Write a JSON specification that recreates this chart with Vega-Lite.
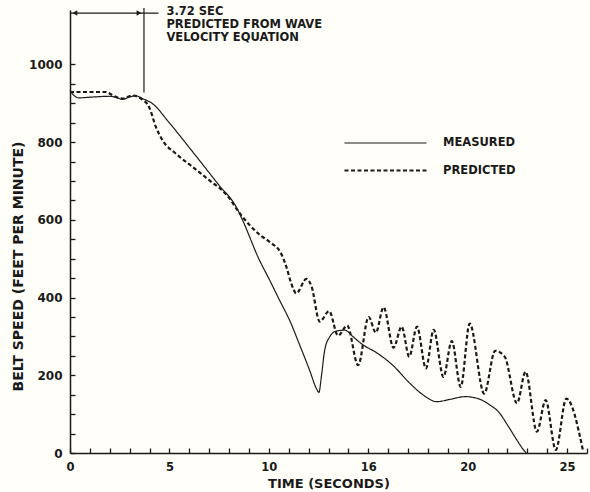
{
  "$schema": "https://vega.github.io/schema/vega-lite/v6.json",
  "width": 517,
  "height": 443,
  "autosize": "none",
  "padding": {"left": 70, "top": 10, "right": 3, "bottom": 39},
  "background": "#fffef8",
  "config": {
    "view": {"stroke": null},
    "font": "DejaVu Sans",
    "axis": {
      "domainColor": "#1a1a1a",
      "domainWidth": 1.5,
      "tickColor": "#1a1a1a",
      "tickWidth": 1.3,
      "tickSize": -5,
      "grid": false,
      "labelFont": "DejaVu Sans",
      "labelFontSize": 12,
      "labelFontWeight": "bold",
      "labelColor": "#1a1a1a",
      "labelOverlap": false,
      "labelFlush": false,
      "titleFont": "DejaVu Sans",
      "titleFontSize": 13,
      "titleFontWeight": "bold",
      "titleColor": "#1a1a1a"
    }
  },
  "resolve": {"axis": {"x": "independent", "y": "independent"}},
  "datasets": {
    "speed": [
      {"t": 0, "v": 933, "series": "MEASURED"},
      {"t": 0.2, "v": 920, "series": "MEASURED"},
      {"t": 0.45, "v": 914, "series": "MEASURED"},
      {"t": 1.13, "v": 916, "series": "MEASURED"},
      {"t": 1.97, "v": 918, "series": "MEASURED"},
      {"t": 2.39, "v": 914, "series": "MEASURED"},
      {"t": 2.64, "v": 910, "series": "MEASURED"},
      {"t": 2.98, "v": 916, "series": "MEASURED"},
      {"t": 3.31, "v": 919, "series": "MEASURED"},
      {"t": 3.65, "v": 912, "series": "MEASURED"},
      {"t": 4.15, "v": 899, "series": "MEASURED"},
      {"t": 4.99, "v": 850, "series": "MEASURED"},
      {"t": 6.17, "v": 775, "series": "MEASURED"},
      {"t": 7.51, "v": 688, "series": "MEASURED"},
      {"t": 8.36, "v": 633, "series": "MEASURED"},
      {"t": 8.61, "v": 607, "series": "MEASURED"},
      {"t": 9.53, "v": 496, "series": "MEASURED"},
      {"t": 10.04, "v": 445, "series": "MEASURED"},
      {"t": 10.54, "v": 393, "series": "MEASURED"},
      {"t": 11.04, "v": 342, "series": "MEASURED"},
      {"t": 11.55, "v": 278, "series": "MEASURED"},
      {"t": 12.05, "v": 213, "series": "MEASURED"},
      {"t": 12.39, "v": 166, "series": "MEASURED"},
      {"t": 12.52, "v": 156, "series": "MEASURED"},
      {"t": 12.64, "v": 196, "series": "MEASURED"},
      {"t": 12.81, "v": 265, "series": "MEASURED"},
      {"t": 13.06, "v": 299, "series": "MEASURED"},
      {"t": 13.4, "v": 314, "series": "MEASURED"},
      {"t": 13.82, "v": 316, "series": "MEASURED"},
      {"t": 14.24, "v": 299, "series": "MEASURED"},
      {"t": 14.74, "v": 278, "series": "MEASURED"},
      {"t": 15.42, "v": 258, "series": "MEASURED"},
      {"t": 16.25, "v": 225, "series": "MEASURED"},
      {"t": 17.1, "v": 179, "series": "MEASURED"},
      {"t": 17.77, "v": 149, "series": "MEASURED"},
      {"t": 18.44, "v": 132, "series": "MEASURED"},
      {"t": 19.11, "v": 138, "series": "MEASURED"},
      {"t": 19.87, "v": 145, "series": "MEASURED"},
      {"t": 20.46, "v": 141, "series": "MEASURED"},
      {"t": 21.13, "v": 123, "series": "MEASURED"},
      {"t": 21.55, "v": 106, "series": "MEASURED"},
      {"t": 22.05, "v": 68, "series": "MEASURED"},
      {"t": 22.48, "v": 33, "series": "MEASURED"},
      {"t": 22.81, "v": 8, "series": "MEASURED"},
      {"t": 22.95, "v": 0, "series": "MEASURED"},
      {"t": 0, "v": 929, "series": "PREDICTED"},
      {"t": 1.8, "v": 929, "series": "PREDICTED"},
      {"t": 2.13, "v": 921, "series": "PREDICTED"},
      {"t": 2.64, "v": 912, "series": "PREDICTED"},
      {"t": 3.14, "v": 920, "series": "PREDICTED"},
      {"t": 3.57, "v": 912, "series": "PREDICTED"},
      {"t": 3.98, "v": 890, "series": "PREDICTED"},
      {"t": 4.32, "v": 839, "series": "PREDICTED"},
      {"t": 4.65, "v": 805, "series": "PREDICTED"},
      {"t": 5.33, "v": 770, "series": "PREDICTED"},
      {"t": 6.17, "v": 736, "series": "PREDICTED"},
      {"t": 7.0, "v": 702, "series": "PREDICTED"},
      {"t": 7.85, "v": 666, "series": "PREDICTED"},
      {"t": 8.61, "v": 612, "series": "PREDICTED"},
      {"t": 9.53, "v": 562, "series": "PREDICTED"},
      {"t": 10.04, "v": 543, "series": "PREDICTED"},
      {"t": 10.62, "v": 513, "series": "PREDICTED"},
      {"t": 10.88, "v": 479, "series": "PREDICTED"},
      {"t": 11.13, "v": 436, "series": "PREDICTED"},
      {"t": 11.38, "v": 411, "series": "PREDICTED"},
      {"t": 11.89, "v": 448, "series": "PREDICTED"},
      {"t": 12.14, "v": 430, "series": "PREDICTED"},
      {"t": 12.56, "v": 338, "series": "PREDICTED"},
      {"t": 13.03, "v": 365, "series": "PREDICTED"},
      {"t": 13.48, "v": 302, "series": "PREDICTED"},
      {"t": 13.94, "v": 328, "series": "PREDICTED"},
      {"t": 14.49, "v": 226, "series": "PREDICTED"},
      {"t": 15.02, "v": 350, "series": "PREDICTED"},
      {"t": 15.38, "v": 310, "series": "PREDICTED"},
      {"t": 15.77, "v": 375, "series": "PREDICTED"},
      {"t": 16.27, "v": 271, "series": "PREDICTED"},
      {"t": 16.68, "v": 325, "series": "PREDICTED"},
      {"t": 17.06, "v": 248, "series": "PREDICTED"},
      {"t": 17.45, "v": 325, "series": "PREDICTED"},
      {"t": 17.9, "v": 218, "series": "PREDICTED"},
      {"t": 18.29, "v": 317, "series": "PREDICTED"},
      {"t": 18.78, "v": 196, "series": "PREDICTED"},
      {"t": 19.2, "v": 288, "series": "PREDICTED"},
      {"t": 19.65, "v": 170, "series": "PREDICTED"},
      {"t": 20.1, "v": 333, "series": "PREDICTED"},
      {"t": 20.83, "v": 153, "series": "PREDICTED"},
      {"t": 21.38, "v": 263, "series": "PREDICTED"},
      {"t": 21.86, "v": 248, "series": "PREDICTED"},
      {"t": 22.48, "v": 128, "series": "PREDICTED"},
      {"t": 22.91, "v": 209, "series": "PREDICTED"},
      {"t": 23.48, "v": 55, "series": "PREDICTED"},
      {"t": 23.92, "v": 136, "series": "PREDICTED"},
      {"t": 24.43, "v": 8, "series": "PREDICTED"},
      {"t": 24.96, "v": 140, "series": "PREDICTED"},
      {"t": 25.8, "v": 6, "series": "PREDICTED"}
    ]
  },
  "layer": [
    {
      "data": {"name": "speed"},
      "mark": {"type": "line", "interpolate": "monotone", "color": "#1a1a1a"},
      "encoding": {
        "x": {
          "field": "t", "type": "quantitative",
          "scale": {"domain": [0, 26], "nice": false, "zero": false},
          "axis": {
            "orient": "bottom",
            "title": "TIME (SECONDS)",
            "values": [0, 5, 10, 15, 20, 25],
            "labelExpr": "datum.value == 15 ? '16' : datum.label",
            "labelFontSize": 11.5,
            "labelPadding": 13,
            "titlePadding": 5
          }
        },
        "y": {
          "field": "v", "type": "quantitative",
          "scale": {"domain": [0, 1140], "nice": false},
          "axis": {
            "orient": "left",
            "title": "BELT SPEED (FEET PER MINUTE)",
            "values": [0, 200, 400, 600, 800, 1000],
            "format": "d",
            "labelPadding": 13,
            "titleFontSize": 14,
            "titleX": -45,
            "titleY": 256
          }
        },
        "detail": {"field": "series"},
        "strokeDash": {
          "field": "series", "type": "nominal",
          "scale": {"domain": ["MEASURED", "PREDICTED"], "range": [[1, 0], [4, 2.5]]},
          "legend": {
            "title": null,
            "orient": "none",
            "legendX": 304,
            "legendY": 122,
            "symbolType": "M-4.1,0H4.1",
            "symbolSize": 400,
            "symbolStrokeColor": "#1a1a1a",
            "symbolStrokeWidth": 1.8,
            "labelFont": "DejaVu Sans",
            "labelFontSize": 11.5,
            "labelFontWeight": "bold",
            "labelColor": "#1a1a1a",
            "labelOffset": 46,
            "rowPadding": 10
          }
        },
        "strokeWidth": {
          "field": "series", "type": "nominal",
          "scale": {"type": "ordinal", "domain": ["MEASURED", "PREDICTED"], "range": [1.2, 2.2]},
          "legend": null
        }
      }
    },
    {
      "data": {"values": [{}]},
      "mark": {"type": "rule", "color": "#1a1a1a", "strokeWidth": 1.2},
      "encoding": {
        "x": {
          "datum": 3.72, "type": "quantitative",
          "axis": {
            "orient": "bottom",
            "title": null,
            "labels": false,
            "domain": false,
            "values": [1,2,3,4,6,7,8,9,11,12,13,14,16,17,18,19,21,22,23,24,26]
          }
        },
        "y": {
          "datum": 928, "type": "quantitative",
          "axis": {
            "orient": "left",
            "title": null,
            "labels": false,
            "domain": false,
            "values": [50,100,150,250,300,350,450,500,550,650,700,750,850,900,950]
          }
        },
        "y2": {"datum": 1145}
      }
    },
    {
      "data": {"values": [{}]},
      "mark": {"type": "rule", "color": "#1a1a1a", "strokeWidth": 1.2},
      "encoding": {
        "x": {"datum": 0, "type": "quantitative", "axis": null},
        "x2": {"datum": 4.45},
        "y": {"datum": 1132, "type": "quantitative", "axis": null}
      }
    },
    {
      "data": {"values": [{}]},
      "mark": {"type": "point", "shape": "triangle-left", "filled": true, "color": "#1a1a1a", "size": 30, "opacity": 1},
      "encoding": {
        "x": {"datum": 0.25, "type": "quantitative", "axis": null},
        "y": {"datum": 1132, "type": "quantitative", "axis": null}
      }
    },
    {
      "data": {"values": [{}]},
      "mark": {"type": "point", "shape": "triangle-right", "filled": true, "color": "#1a1a1a", "size": 30, "opacity": 1},
      "encoding": {
        "x": {"datum": 3.47, "type": "quantitative", "axis": null},
        "y": {"datum": 1132, "type": "quantitative", "axis": null}
      }
    },
    {
      "data": {"values": [{}]},
      "mark": {"type": "text", "align": "left", "baseline": "top", "font": "DejaVu Sans", "fontSize": 11.5, "fontWeight": "bold", "color": "#1a1a1a", "lineHeight": 13},
      "encoding": {
        "x": {"datum": 4.85, "type": "quantitative", "axis": null},
        "y": {"datum": 1150, "type": "quantitative", "axis": null},
        "text": {"value": ["3.72 SEC", "PREDICTED FROM WAVE", "VELOCITY EQUATION"]}
      }
    }
  ]
}
